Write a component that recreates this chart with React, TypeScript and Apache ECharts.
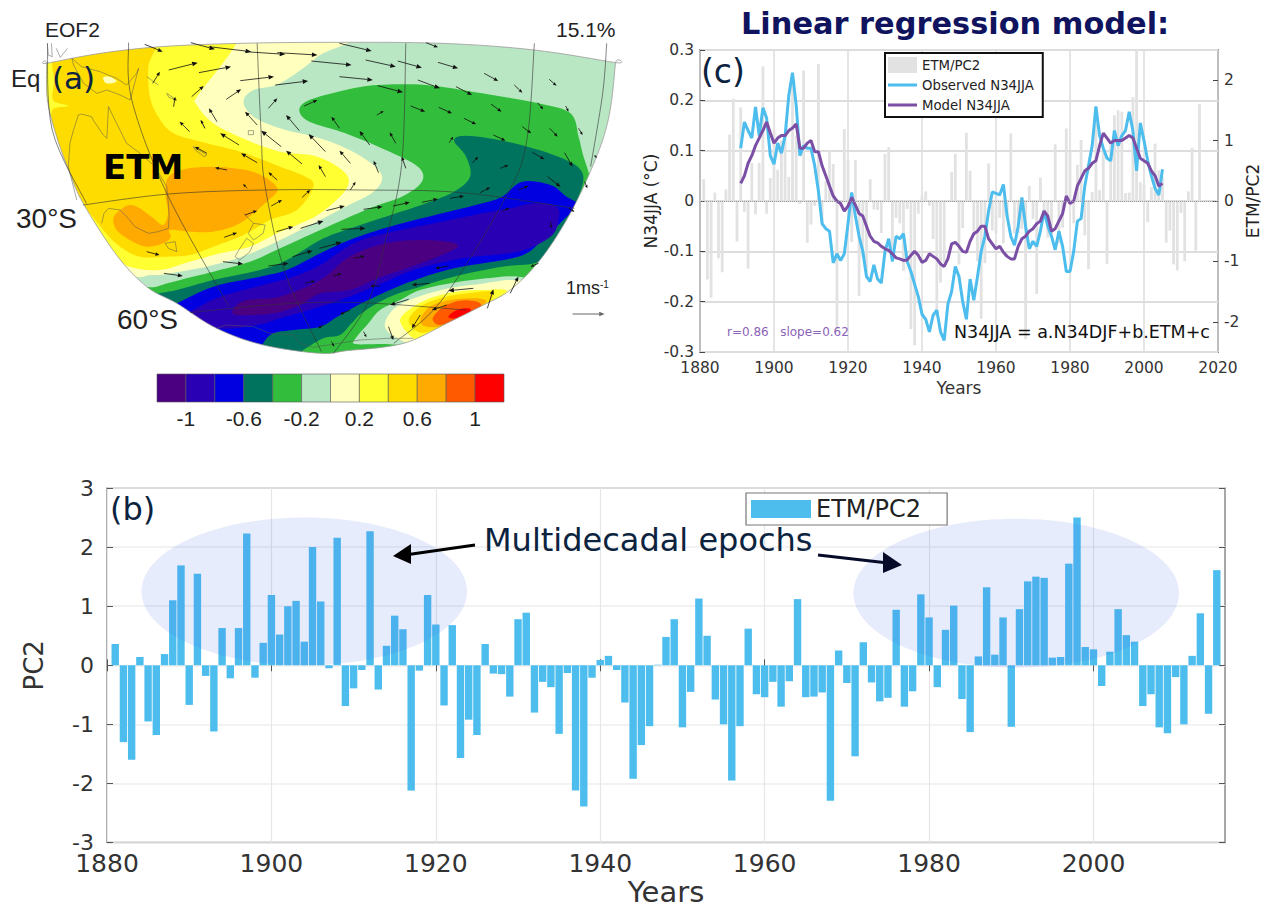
import React, { useEffect, useRef } from "react";
import * as echarts from "echarts";

// ---------- data ----------
const yearsB: number[] = [];
for (let y = 1881; y <= 2015; y++) yearsB.push(y);
const etmPC2 = [
  0.36, -1.3, -1.6, 0.14, -0.95, -1.18, 0.19, 1.1, 1.69, -0.67,
  1.55, -0.18, -1.12, 0.63, -0.22, 0.63, 2.23, -0.21, 0.38, 1.19,
  0.52, 1.0, 1.09, 0.4, 2.0, 1.08, -0.05, 2.16, -0.69, -0.39,
  -0.08, 2.27, -0.41, 0.33, 0.84, 0.61, -2.12, -0.09, 1.19, 0.69,
  -0.68, 0.68, -1.57, -0.92, -1.18, 0.36, -0.14, -0.15, -0.53, 0.78,
  0.89, -0.8, -0.28, -0.37, -1.16, -0.13, -2.12, -2.39, -0.21, 0.09,
  0.16, -0.08, -0.63, -1.92, -1.35, -1.03, 0.01, 0.48, 0.78, -1.05,
  -0.45, 1.13, 0.5, -0.58, -1.0, -1.95, -1.03, 0.62, -0.49, -0.54,
  -0.28, -0.7, -0.27, 1.12, -0.54, -0.53, -0.46, -2.29, 0.25, -0.3,
  -1.54, 0.39, -0.29, -0.61, -0.55, 0.94, -0.7, -0.44, 1.2, 0.81,
  -0.37, 0.6, 1.01, -0.57, -1.13, 0.15, 1.32, 0.18, 0.81, -1.04,
  0.95, 1.42, 1.5, 1.48, 0.13, 0.14, 1.72, 2.5, 0.31, 0.27,
  -0.35, 0.23, 0.95, 0.51, 0.4, -0.69, -0.49, -1.05, -1.15, -0.2,
  -1.0, 0.16, 0.88, -0.82, 1.61,
];
const yearsC: number[] = [];
for (let y = 1891; y <= 2005; y++) yearsC.push(y);
const observedN34 = [
  0.105, 0.157, 0.14, 0.125, 0.187, 0.13, 0.185, 0.165, 0.09, 0.073,
  0.115, 0.095, 0.13, 0.21, 0.255, 0.19, 0.09, 0.11, 0.105, 0.105,
  0.07, 0.02, -0.045, -0.055, -0.06, -0.123, -0.105, -0.118, -0.105, -0.045,
  0.017, -0.03, -0.07, -0.1, -0.15, -0.16, -0.127, -0.155, -0.163, -0.1,
  -0.075, -0.12, -0.07, -0.075, -0.065, -0.12, -0.14, -0.165, -0.19, -0.225,
  -0.235, -0.26, -0.227, -0.217, -0.26, -0.277, -0.205, -0.18, -0.13, -0.15,
  -0.2, -0.235, -0.155, -0.197, -0.15, -0.1, -0.07, -0.02, 0.018, 0.015,
  0.012, 0.033, -0.03, -0.07, -0.088, -0.05, 0.007, -0.05, -0.095, -0.08,
  -0.09, -0.06, -0.02, -0.05, -0.07, -0.097, -0.06, -0.09, -0.14, -0.14,
  -0.1, -0.04, -0.035, 0.03, 0.07, 0.11, 0.188, 0.13, 0.105, 0.085,
  0.08, 0.14, 0.11, 0.13, 0.14, 0.177, 0.14, 0.06, 0.155, 0.12,
  0.08, 0.05, 0.025, 0.012, 0.063,
];
const modelN34 = [
  0.035, 0.05, 0.075, 0.09, 0.11, 0.125, 0.14, 0.157, 0.135, 0.115,
  0.125, 0.13, 0.13, 0.14, 0.145, 0.153, 0.105, 0.105, 0.115, 0.12,
  0.098, 0.098, 0.07, 0.05, 0.03, 0.01, 0.0, -0.005, -0.02, -0.01,
  0.007, -0.008, -0.025, -0.03, -0.05, -0.07, -0.08, -0.083, -0.09, -0.095,
  -0.098, -0.105, -0.113, -0.115, -0.118, -0.117, -0.108, -0.1, -0.108, -0.122,
  -0.118, -0.105, -0.11, -0.115, -0.125, -0.13, -0.115, -0.085, -0.082, -0.09,
  -0.1, -0.102, -0.08, -0.065, -0.06, -0.05, -0.05, -0.075, -0.085, -0.095,
  -0.09, -0.102, -0.11, -0.115, -0.115, -0.09, -0.075, -0.07, -0.06, -0.055,
  -0.045, -0.04, -0.02, -0.03, -0.06, -0.055, -0.04, -0.025, 0.01, -0.005,
  0.0, 0.03, 0.045, 0.06, 0.065, 0.075, 0.08, 0.11, 0.135, 0.125,
  0.115, 0.12, 0.12, 0.12, 0.125, 0.13, 0.125, 0.105, 0.085, 0.08,
  0.075, 0.06, 0.05, 0.03, 0.035,
];
const rightTicks = [-2, -1, 0, 1, 2];
const yearTicksB = [1880, 1900, 1920, 1940, 1960, 1980, 2000];
const colorLevels = [-1.2, -1, -0.8, -0.6, -0.4, -0.2, 0, 0.2, 0.4, 0.6, 0.8, 1, 1.2];
const colorTicks = [-1, -0.6, -0.2, 0.2, 0.6, 1];
const colorBar = ["#4b0082", "#2a00b4", "#0000e1", "#00735f", "#32be3c", "#b9e6c3", "#ffffbe", "#ffff32", "#ffdc00", "#ffaa00", "#ff5a00", "#ff0000"];
const epochs = [
  [1904, 1.25, 19.8, 1.25],
  [1990.6, 1.22, 19.8, 1.26],
];

// EOF2 map, in a traced map frame
const mapOutline: number[][] = [
  [116, 190], [116, 190], [118, 300], [141, 410], [174, 520], [207, 610], [290, 765], [365, 860], [440, 910], [539, 985], [655, 1035], [797, 1060], [863, 1052], [963, 1040], [1029, 1020], [1112, 970], [1195, 920], [1270, 870], [1344, 780], [1410, 660], [1460, 540], [1500, 420], [1520, 320], [1532, 188], [1532, 188], [1330, 150], [1100, 130], [830, 127], [600, 130], [400, 140], [250, 160],
];
const contourLayers: { c: number; p: number[][] }[] = [
  { c: 6, p: [[830, 100], [790, 170], [697, 250], [631, 270], [606, 305], [631, 350], [697, 385], [810, 420], [900, 470], [950, 525], [930, 575], [860, 620], [797, 660], [689, 725], [614, 765], [531, 795], [448, 815], [377, 825], [300, 800], [50, 500], [50, 100]] },
  { c: 7, p: [[585, 100], [585, 135], [548, 200], [490, 290], [490, 315], [531, 370], [614, 420], [697, 455], [790, 470], [860, 520], [860, 570], [797, 640], [739, 675], [689, 700], [622, 740], [548, 760], [473, 785], [398, 810], [323, 800], [280, 760], [50, 500], [50, 100]] },
  { c: 8, p: [[378, 100], [369, 200], [373, 290], [394, 350], [432, 400], [515, 430], [598, 455], [697, 500], [760, 530], [780, 560], [739, 630], [672, 660], [606, 705], [531, 740], [473, 765], [415, 770], [348, 770], [299, 740], [257, 690], [196, 590], [160, 490], [135, 400], [130, 330], [170, 318], [132, 300], [135, 240], [130, 190], [140, 100]] },
  { c: 6, p: [[257, 232], [275, 231], [290, 245], [265, 250]] },
  { c: 9, p: [[470, 505], [560, 502], [640, 520], [690, 565], [664, 605], [597, 670], [531, 695], [473, 695], [423, 690], [425, 712], [406, 730], [365, 740], [323, 720], [290, 690], [282, 655], [299, 630], [323, 615], [348, 625], [382, 655], [406, 675], [418, 640], [412, 580], [420, 530]] },
  { c: 4, p: [[1440, 410], [1420, 340], [1340, 310], [1200, 280], [1060, 255], [940, 255], [860, 270], [770, 300], [745, 330], [770, 365], [860, 400], [960, 450], [1040, 500], [1050, 545], [1000, 590], [920, 625], [797, 690], [697, 745], [622, 785], [531, 815], [448, 840], [390, 860], [340, 885], [400, 1100], [1300, 1100], [1500, 700], [1470, 540], [1450, 460]] },
  { c: 3, p: [[398, 880], [440, 870], [531, 840], [647, 810], [714, 780], [797, 720], [860, 690], [960, 650], [1060, 610], [1130, 575], [1170, 530], [1160, 470], [1130, 420], [1170, 408], [1280, 430], [1400, 475], [1450, 520], [1440, 590], [1410, 660], [1370, 760], [1330, 790], [1250, 800], [1129, 830], [1046, 860], [971, 890], [905, 935], [875, 970], [846, 1005], [805, 1015], [755, 1050], [700, 1100], [500, 1100], [370, 900]] },
  { c: 2, p: [[1250, 590], [1300, 545], [1370, 555], [1410, 590], [1450, 620], [1420, 640], [1350, 720], [1290, 770], [1130, 805], [1010, 850], [900, 910], [840, 950], [797, 980], [730, 990], [680, 1000], [655, 1030], [640, 1080], [500, 1000], [420, 920], [440, 910], [531, 860], [647, 830], [714, 810], [797, 760], [870, 720], [970, 680], [1100, 640], [1200, 610]] },
  { c: 1, p: [[1270, 625], [1330, 610], [1385, 620], [1390, 660], [1370, 710], [1290, 755], [1150, 775], [1030, 810], [950, 850], [870, 890], [797, 920], [697, 955], [639, 975], [539, 985], [455, 945], [473, 935], [548, 890], [655, 855], [730, 830], [797, 795], [880, 730], [960, 700], [1080, 670], [1200, 640]] },
  { c: 0, p: [[870, 770], [960, 730], [1060, 720], [1140, 735], [1090, 770], [1000, 810], [950, 830], [870, 870], [797, 880], [747, 915], [680, 940], [589, 945], [582, 925], [614, 900], [697, 890], [797, 840]] },
  { c: 5, p: [[917, 970], [946, 930], [996, 900], [1046, 870], [1129, 848], [1210, 835], [1290, 830], [1320, 860], [1150, 1000], [1040, 1035], [960, 1032], [885, 1032], [885, 1015]] },
  { c: 6, p: [[958, 970], [987, 920], [1054, 885], [1129, 862], [1195, 852], [1270, 840], [1290, 860], [1100, 1000], [1029, 1030], [975, 1005]] },
  { c: 7, p: [[996, 965], [1017, 930], [1070, 895], [1137, 875], [1203, 870], [1262, 875], [1200, 950], [1060, 1015], [1029, 1015]] },
  { c: 8, p: [[1017, 960], [1046, 920], [1095, 895], [1162, 880], [1228, 878], [1190, 935], [1080, 990], [1040, 995]] },
  { c: 9, p: [[1046, 960], [1070, 920], [1120, 900], [1187, 895], [1210, 905], [1178, 930], [1112, 975], [1062, 980]] },
  { c: 10, p: [[1077, 955], [1104, 920], [1145, 902], [1187, 905], [1195, 922], [1145, 955], [1095, 975]] },
  { c: 11, p: [[1116, 950], [1137, 930], [1166, 925], [1170, 935], [1137, 955]] },
];
const mapGraticule: number[][][] = [
  [[320, 128], [328, 300], [415, 580], [570, 920]],
  [[640, 130], [650, 400], [660, 560], [710, 820], [800, 1055]],
  [[1010, 130], [1000, 490], [960, 720], [915, 910], [830, 1060]],
  [[1330, 130], [1310, 430], [1255, 600], [1100, 900], [980, 1030]],
  [[118, 130], [130, 390], [215, 610]],
  [[1510, 130], [1500, 280], [1470, 500]],
  [[207, 615], [420, 582], [660, 570], [900, 570], [1150, 578], [1430, 625]],
  [[473, 938], [700, 912], [900, 908], [1160, 930]],
];
const mapCoasts: number[][][] = [
  [[179, 175], [203, 200], [249, 215], [290, 235], [315, 255], [340, 220], [345, 205]],
  [[345, 205], [324, 300], [299, 285], [266, 270], [241, 280], [208, 250], [183, 195], [179, 175]],
  [[191, 600], [170, 500], [174, 430], [183, 390], [195, 345], [203, 342], [228, 350], [232, 360], [257, 405], [266, 415], [270, 320], [286, 360], [315, 430], [349, 460], [386, 500], [415, 560], [419, 610], [421, 650], [419, 685], [394, 695], [369, 700], [336, 680], [319, 655], [299, 630], [270, 625], [259, 640], [253, 670]],
  [[411, 730], [436, 725], [440, 755], [419, 745], [411, 730]],
  [[606, 640], [631, 670], [660, 675], [655, 700], [631, 720], [618, 700], [631, 670]],
  [[614, 715], [631, 730], [622, 755], [597, 780], [585, 770], [597, 745], [614, 715]],
  [[365, 230], [394, 255]],
  [[415, 280], [440, 300], [420, 292], [415, 280]],
  [[498, 360], [510, 385]],
  [[618, 392], [631, 392], [631, 404], [618, 404], [618, 392]],
  [[481, 440], [515, 465], [508, 470], [486, 450], [481, 440]],
  [[118, 130], [120, 165], [130, 170], [128, 130]],
  [[140, 145], [150, 172], [168, 145]],
  [[539, 985], [564, 975], [631, 980], [672, 1000], [730, 1005], [747, 1030], [780, 1042], [842, 1030], [896, 1020], [963, 1015], [1029, 1015]],
];
const windArrows: number[][] = [
  [360, 133, 405, 155], [475, 128, 535, 148], [520, 140, 625, 155], [610, 155, 710, 163], [690, 158, 790, 165], [845, 130, 925, 153], [1060, 128, 1090, 142],
  [775, 183, 875, 195], [910, 180, 985, 200], [990, 183, 1050, 203], [1090, 187, 1140, 205],
  [420, 210, 492, 188], [495, 218, 575, 200], [598, 242, 682, 230], [685, 255, 767, 243], [845, 230, 928, 240], [1040, 240, 1095, 265], [1205, 220, 1240, 243], [1367, 238, 1385, 257],
  [380, 250, 398, 215], [940, 257, 1003, 277], [1135, 260, 1175, 285], [1280, 255, 1300, 278],
  [477, 290, 507, 258], [563, 298, 600, 268], [668, 325, 690, 295], [757, 318, 790, 300], [1022, 318, 1058, 335], [1092, 322, 1125, 340], [1222, 312, 1248, 335], [1338, 308, 1352, 328], [1408, 318, 1415, 335],
  [432, 320, 436, 290], [540, 365, 520, 325], [640, 375, 610, 335], [745, 392, 712, 345], [845, 385, 825, 350], [938, 345, 955, 333], [1155, 355, 1185, 373], [1300, 380, 1322, 400], [1368, 385, 1388, 410], [1440, 385, 1450, 405],
  [472, 395, 447, 365], [510, 385, 500, 360], [700, 440, 650, 392], [810, 455, 768, 402], [920, 435, 895, 393], [985, 430, 970, 397], [1228, 405, 1258, 422], [1118, 428, 1128, 410],
  [595, 435, 548, 400], [515, 460, 485, 440], [640, 488, 600, 460], [752, 492, 712, 452], [872, 490, 845, 452], [1325, 457, 1355, 478], [1405, 458, 1425, 500], [1010, 505, 1000, 470], [942, 518, 930, 482], [1175, 490, 1190, 470], [1245, 505, 1265, 495], [1480, 465, 1485, 475],
  [565, 510, 535, 503], [810, 530, 793, 495], [690, 540, 668, 517], [615, 565, 605, 552], [872, 570, 885, 545], [1363, 530, 1395, 560], [1455, 545, 1462, 565],
  [1195, 578, 1220, 562], [1290, 570, 1315, 558], [1120, 595, 1155, 588], [1050, 607, 1090, 597], [978, 618, 1020, 607], [905, 628, 952, 620], [812, 632, 858, 618], [752, 592, 772, 570], [675, 618, 702, 600], [610, 645, 640, 632], [558, 712, 590, 698], [688, 695, 730, 680], [748, 685, 805, 663], [850, 688, 910, 685], [1250, 632, 1268, 625], [1415, 625, 1430, 635], [1370, 665, 1372, 685],
  [365, 755, 397, 765], [728, 770, 778, 752], [795, 745, 850, 727], [555, 785, 605, 792], [668, 798, 718, 790], [880, 775, 908, 768], [408, 820, 455, 828], [830, 828, 850, 820], [759, 850, 784, 843], [1116, 798, 1083, 805], [1340, 790, 1320, 800], [1069, 850, 1025, 855], [946, 858, 921, 858], [1178, 865, 1116, 872], [1270, 880, 1290, 830], [1213, 925, 1228, 868], [1017, 898, 971, 915], [1112, 915, 1075, 930], [1046, 945, 1025, 985], [871, 930, 846, 943], [805, 975, 792, 985], [905, 995, 912, 1012], [967, 980, 979, 1020], [825, 1025, 832, 1040],
];
const keyArrow: number[][] = [[1425, 942, 1505, 942]];

// ---------- helpers ----------
function smooth(pts: number[][], closed: boolean, steps = 8): number[][] {
  const out: number[][] = [];
  const n = pts.length;
  const at = (i: number) => (closed ? pts[((i % n) + n) % n] : pts[Math.max(0, Math.min(n - 1, i))]);
  const last = closed ? n : n - 1;
  for (let i = 0; i < last; i++) {
    const p0 = at(i - 1), p1 = at(i), p2 = at(i + 1), p3 = at(i + 2);
    for (let s = 0; s < steps; s++) {
      const t = s / steps, t2 = t * t, t3 = t2 * t;
      out.push([
        0.5 * (2 * p1[0] + (p2[0] - p0[0]) * t + (2 * p0[0] - 5 * p1[0] + 4 * p2[0] - p3[0]) * t2 + (3 * p1[0] - p0[0] - 3 * p2[0] + p3[0]) * t3),
        0.5 * (2 * p1[1] + (p2[1] - p0[1]) * t + (2 * p0[1] - 5 * p1[1] + 4 * p2[1] - p3[1]) * t2 + (3 * p1[1] - p0[1] - 3 * p2[1] + p3[1]) * t3),
      ]);
    }
  }
  if (!closed) out.push(pts[n - 1]);
  return out;
}
const MAP_W = 1568, MAP_H = 1320;
const indexData = (arr: any[]) => arr.map((_, i) => [i, 0]);
const mapSeriesBase = { type: "custom", coordinateSystem: "cartesian2d", xAxisIndex: 0, yAxisIndex: 0, silent: true, animation: false };

function arrowShape(api: any, a: number[], color: string, width: number) {
  const p0 = api.coord([a[0], a[1]]), p1 = api.coord([a[2], a[3]]);
  const dx = p1[0] - p0[0], dy = p1[1] - p0[1];
  const len = Math.hypot(dx, dy) || 1;
  const ux = dx / len, uy = dy / len;
  const h = Math.min(5.5, 2.2 + len * 0.14), w = h * 0.42;
  const bx = p1[0] - ux * h, by = p1[1] - uy * h;
  return {
    type: "group",
    children: [
      { type: "line", shape: { x1: p0[0], y1: p0[1], x2: bx, y2: by }, style: { stroke: color, lineWidth: width } },
      { type: "polygon", shape: { points: [p1, [bx - uy * w, by + ux * w], [bx + uy * w, by - ux * w]] }, style: { fill: color } },
    ],
  };
}

const navy = "#0c2340";
const dv = "DejaVu Sans";
const lib = "Liberation Sans";
const legendLineIcon = "path://M0 0L0.01 0ZM0 6.5H100V9.5H0ZM0 16L0.01 16Z";

function buildOption(): any {
  const zipBars = yearsB.map((y, i) => [y, etmPC2[i]]);
  return {
    animation: false,
    backgroundColor: "#ffffff",
    grid: [
      { left: 0, top: 0, width: 630, height: 440 },
      { left: 157, top: 374, width: 347, height: 28 },
      { left: 700, top: 50, width: 518, height: 302, show: true, borderColor: "#333333", borderWidth: 1.5, backgroundColor: "transparent" },
      { left: 107, top: 488, width: 1118, height: 360, show: true, borderColor: "#8a8a8a", borderWidth: 1.5, backgroundColor: "transparent" },
    ],
    xAxis: [
      { gridIndex: 0, type: "value", min: 0, max: MAP_W, show: false },
      {
        gridIndex: 1, type: "value", min: -1.2, max: 1.2, interval: 0.4, z: 10,
        axisLine: { show: false }, axisTick: { show: false }, splitLine: { show: false },
        axisLabel: { customValues: colorTicks, fontFamily: lib, fontSize: 21, color: "#222", margin: 6 },
      },
      {
        gridIndex: 2, type: "value", min: 1880, max: 2020, interval: 20,
        name: "Years", nameLocation: "middle", nameGap: 27, nameTextStyle: { fontFamily: dv, fontSize: 17, color: "#333" },
        axisLine: { show: false }, axisTick: { show: false },
        splitLine: { show: true, lineStyle: { color: "#dddddd", width: 1.5 } },
        axisLabel: { fontFamily: dv, fontSize: 15.5, color: "#333", margin: 8, formatter: (v: number) => String(v) },
      },
      {
        gridIndex: 3, type: "value", min: 1880, max: 2016, interval: 20,
        name: "Years", nameLocation: "middle", nameGap: 31, nameTextStyle: { fontFamily: dv, fontSize: 29, color: "#333" },
        axisLine: { show: false }, axisTick: { show: true, inside: true, length: 6, customValues: yearTicksB, lineStyle: { color: "#555" } },
        splitLine: { show: true, lineStyle: { color: "#e6e6e6", width: 1.2 } },
        axisLabel: { fontFamily: dv, fontSize: 25, lineHeight: 18, color: "#333", margin: 12, customValues: yearTicksB, formatter: (v: number) => String(v) },
      },
      {
        gridIndex: 3, type: "value", position: "top", min: 1880, max: 2016, interval: 20,
        axisLine: { show: false }, axisTick: { show: true, inside: true, length: 6, customValues: yearTicksB, lineStyle: { color: "#555" } },
        splitLine: { show: false }, axisLabel: { show: false },
      },
    ],
    yAxis: [
      { gridIndex: 0, type: "value", min: 0, max: MAP_H, inverse: true, show: false },
      { gridIndex: 1, type: "value", min: 0, max: 1, show: false },
      {
        gridIndex: 2, type: "value", min: -0.3, max: 0.3, interval: 0.1,
        name: "N34JJA (°C)", nameLocation: "middle", nameGap: 38, nameTextStyle: { fontFamily: dv, fontSize: 17, color: "#222" },
        axisLine: { show: false }, axisTick: { show: true, inside: true, length: 5, lineStyle: { color: "#444" } },
        splitLine: { show: true, lineStyle: { color: "#dddddd", width: 2 } },
        axisLabel: { fontFamily: dv, fontSize: 15.5, color: "#333", margin: 6, formatter: (v: number) => (Math.abs(v) < 1e-6 ? "0" : String(+v.toFixed(1))) },
      },
      {
        gridIndex: 2, type: "value", position: "right", min: -2.5, max: 2.5,
        name: "ETM/PC2", nameLocation: "middle", nameGap: 26, nameRotate: 90, nameTextStyle: { fontFamily: dv, fontSize: 17, color: "#222" },
        axisLine: { show: false }, axisTick: { show: true, inside: true, length: 5, customValues: rightTicks, lineStyle: { color: "#444" } },
        splitLine: { show: false },
        axisLabel: { fontFamily: dv, fontSize: 15.5, color: "#333", margin: 6, customValues: rightTicks },
      },
      {
        gridIndex: 3, type: "value", min: -3, max: 3, interval: 1,
        name: "PC2", nameLocation: "middle", nameGap: 60, nameTextStyle: { fontFamily: dv, fontSize: 26, color: "#333" },
        axisLine: { show: false }, axisTick: { show: true, inside: true, length: 6, lineStyle: { color: "#555" } },
        splitLine: { show: true, lineStyle: { color: "#eeeeee", width: 1.5 } },
        axisLabel: { fontFamily: dv, fontSize: 22, lineHeight: 16, color: "#333", margin: 13 },
      },
      {
        gridIndex: 3, type: "value", position: "right", min: -3, max: 3, interval: 1,
        axisLine: { show: false }, axisTick: { show: true, inside: true, length: 6, lineStyle: { color: "#555" } },
        splitLine: { show: false }, axisLabel: { show: false },
      },
    ],
    legend: [
      {
        left: 885, top: 53, orient: "vertical", itemWidth: 29, itemHeight: 16, itemGap: 4, padding: [4, 9, 4, 3],
        backgroundColor: "#fff", borderColor: "#111", borderWidth: 2, symbolKeepAspect: false,
        data: [{ name: "ETM/PC2", icon: "rect" }, { name: "Observed N34JJA", icon: legendLineIcon }, { name: "Model N34JJA", icon: legendLineIcon }], selectedMode: false,
        textStyle: { fontFamily: dv, fontSize: 13.3, color: "#222" }, z: 20,
      },
      {
        left: 746, top: 493, orient: "vertical", itemWidth: 60, itemHeight: 18, padding: [4, 26, 4, 5], symbolKeepAspect: false,
        backgroundColor: "#fff", borderColor: "#777", borderWidth: 1.2,
        data: [{ name: "ETM/PC2 series", icon: "rect" }], selectedMode: false, formatter: () => "ETM/PC2",
        textStyle: { fontFamily: dv, fontSize: 24, color: "#222" }, z: 20,
      },
    ],
    series: [
      {
        ...mapSeriesBase, name: "contours", z: 2, data: indexData([0, ...contourLayers]),
        renderItem: (_: any, api: any) => {
          const i = api.value(0);
          if (i === 0) {
            return { type: "polygon", shape: { points: smooth(mapOutline, true).map((p) => api.coord(p)) }, style: { fill: colorBar[5] } };
          }
          const l = contourLayers[i - 1];
          return { type: "polygon", shape: { points: smooth(l.p, true).map((p) => api.coord(p)) }, style: { fill: colorBar[l.c] } };
        },
      },
      {
        ...mapSeriesBase, name: "mask", z: 3, data: [[0, 0]],
        renderItem: (_: any, api: any) => {
          const inner = smooth(mapOutline, true);
          const outer = [[0, 0], [MAP_W, 0], [MAP_W, MAP_H], [0, MAP_H], [0, 0]];
          return {
            type: "group",
            children: [
              { type: "polygon", shape: { points: [...outer, ...inner, inner[0], [0, 0]].map((p) => api.coord(p)) }, style: { fill: "#ffffff" } },
              { type: "polygon", shape: { points: inner.map((p) => api.coord(p)) }, style: { fill: "none", stroke: "#999", lineWidth: 0.8 } },
            ],
          };
        },
      },
      {
        ...mapSeriesBase, name: "graticule", z: 4, data: indexData(mapGraticule),
        renderItem: (_: any, api: any) => ({
          type: "polyline", shape: { points: smooth(mapGraticule[api.value(0)], false).map((p) => api.coord(p)) },
          style: { fill: "none", stroke: "#333", lineWidth: 0.6 },
        }),
      },
      {
        ...mapSeriesBase, name: "coasts", z: 4, data: indexData(mapCoasts),
        renderItem: (_: any, api: any) => ({
          type: "polyline", shape: { points: mapCoasts[api.value(0)].map((p) => api.coord(p)) },
          style: { fill: "none", stroke: "#555", lineWidth: 0.5 },
        }),
      },
      {
        ...mapSeriesBase, name: "wind", z: 5, data: indexData(windArrows),
        renderItem: (_: any, api: any) => arrowShape(api, windArrows[api.value(0)], "#111", 0.8),
      },
      {
        ...mapSeriesBase, name: "key", z: 5, data: indexData(keyArrow),
        renderItem: (_: any, api: any) => arrowShape(api, keyArrow[api.value(0)], "#666", 1),
      },
      {
        type: "custom", name: "colorbar", coordinateSystem: "cartesian2d", xAxisIndex: 1, yAxisIndex: 1, z: 6, silent: true,
        data: colorBar.map((_, i) => [colorLevels[i], colorLevels[i + 1], i]),
        encode: { x: [0, 1] },
        renderItem: (_: any, api: any) => {
          const a = api.coord([api.value(0), 1]), b = api.coord([api.value(1), 0]);
          return { type: "rect", shape: { x: a[0], y: a[1], width: b[0] - a[0], height: b[1] - a[1] }, style: { fill: colorBar[api.value(2)], stroke: "#555", lineWidth: 0.6 } };
        },
      },
      {
        type: "bar", name: "ETM/PC2", xAxisIndex: 2, yAxisIndex: 3, data: zipBars, barWidth: 2.8, z: 2,
        itemStyle: { color: "#e2e2e2" }, silent: true,
        markLine: {
          silent: true, symbol: "none", label: { show: false }, animation: false,
          lineStyle: { color: "#999", type: "dotted", width: 1 }, data: [{ yAxis: 0 }],
        },
      },
      {
        type: "line", name: "Observed N34JJA", xAxisIndex: 2, yAxisIndex: 2, data: yearsC.map((y, i) => [y, observedN34[i]]),
        showSymbol: false, symbol: "none", z: 3, lineStyle: { color: "#4dbdee", width: 3 }, itemStyle: { color: "#4dbdee" },
      },
      {
        type: "line", name: "Model N34JJA", xAxisIndex: 2, yAxisIndex: 2, data: yearsC.map((y, i) => [y, modelN34[i]]),
        showSymbol: false, symbol: "none", z: 4, lineStyle: { color: "#7b4fa5", width: 3 }, itemStyle: { color: "#7b4fa5" },
      },
      {
        type: "bar", name: "ETM/PC2 series", xAxisIndex: 3, yAxisIndex: 4, data: zipBars, barWidth: 7.4, z: 2,
        itemStyle: { color: "#4dbdee" }, silent: true,
      },
      {
        type: "custom", name: "epochs", coordinateSystem: "cartesian2d", xAxisIndex: 3, yAxisIndex: 4, z: 3, silent: true,
        data: epochs,
        renderItem: (_: any, api: any) => {
          const c = api.coord([api.value(0), api.value(1)]);
          const s = api.size([api.value(2), api.value(3)]);
          return { type: "ellipse", shape: { cx: c[0], cy: c[1], rx: s[0], ry: s[1] }, style: { fill: "rgba(60,100,240,0.125)" } };
        },
      },
    ],
    graphic: [
      { type: "text", x: 45, y: 19, z: 30, style: { text: "EOF2", fontFamily: lib, fontSize: 21, fill: "#222" } },
      { type: "text", x: 556, y: 19, z: 30, style: { text: "15.1%", fontFamily: lib, fontSize: 21, fill: "#222" } },
      { type: "text", x: 11, y: 66, z: 30, style: { text: "Eq", fontFamily: lib, fontSize: 24, fill: "#222" } },
      { type: "text", x: 52, y: 62, z: 30, style: { text: "(a)", fontFamily: dv, fontSize: 31, fill: navy } },
      { type: "text", x: 103, y: 150, z: 30, style: { text: "ETM", fontFamily: dv, fontWeight: "bold", fontSize: 34, fill: "#000" } },
      { type: "text", x: 16, y: 204, z: 30, style: { text: "30°S", fontFamily: lib, fontSize: 28, fill: "#222" } },
      { type: "text", x: 117, y: 305, z: 30, style: { text: "60°S", fontFamily: lib, fontSize: 28, fill: "#222" } },
      {
        type: "text", x: 566, y: 279, z: 30,
        style: {
          text: "1ms{s|-1}", fontFamily: lib, fontSize: 18, fill: "#222",
          rich: { s: { fontFamily: lib, fontSize: 10, fill: "#222", verticalAlign: "top", padding: [0, 0, 8, 0] } },
        },
      },
      { type: "text", x: 741, y: 8, z: 30, style: { text: "Linear regression model:", fontFamily: dv, fontWeight: "bold", fontSize: 30.4, fill: "#10145f" } },
      { type: "text", x: 701, y: 55, z: 30, style: { text: "(c)", fontFamily: dv, fontSize: 33, fill: navy } },
      { type: "text", x: 727, y: 326, z: 30, style: { text: "r=0.86   slope=0.62", fontFamily: dv, fontSize: 12, fill: "#8a62b8" } },
      { type: "text", x: 954, y: 323, z: 30, style: { text: "N34JJA = a.N34DJF+b.ETM+c", fontFamily: dv, fontSize: 17.5, fill: "#111" } },
      { type: "text", x: 110, y: 493, z: 30, style: { text: "(b)", fontFamily: dv, fontSize: 32, fill: navy } },
      { type: "text", x: 484, y: 524, z: 30, style: { text: "Multidecadal epochs", fontFamily: dv, fontSize: 32, fill: navy } },
      { type: "line", z: 30, shape: { x1: 475, y1: 545, x2: 405, y2: 555 }, style: { stroke: "#000", lineWidth: 3 } },
      { type: "polygon", z: 30, shape: { points: [[393, 556], [411, 544], [411, 564]] }, style: { fill: "#000" } },
      { type: "line", z: 30, shape: { x1: 818, y1: 555, x2: 888, y2: 563 }, style: { stroke: "#070b2a", lineWidth: 3 } },
      { type: "polygon", z: 30, shape: { points: [[902, 565], [883, 552], [883, 573]] }, style: { fill: "#070b2a" } },
    ],
  };
}

export default function App() {
  const ref = useRef<HTMLDivElement>(null);
  useEffect(() => {
    document.body.style.margin = "0";
    const chart = echarts.init(ref.current!, undefined, { renderer: "svg" });
    chart.setOption(buildOption());
    return () => chart.dispose();
  }, []);
  return <div ref={ref} style={{ width: 1263, height: 907, background: "#fff" }} />;
}
